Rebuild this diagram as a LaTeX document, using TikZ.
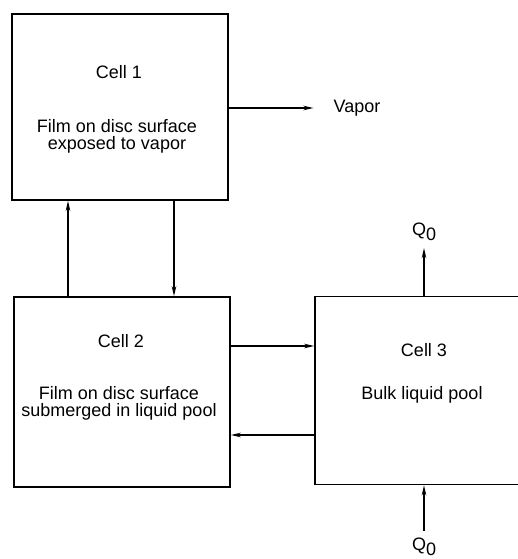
\documentclass[tikz,border=0pt]{standalone}
\usepackage{fontspec}
\setmainfont{Liberation Sans}
\usetikzlibrary{arrows.meta}

\tikzset{
  cellbox/.style={draw, line width=1.6pt, minimum width=216pt, minimum height=186pt, inner sep=0pt},
  flow/.style={line width=1.5pt, -{Stealth[length=10pt,width=4.5pt]}},
  lbl/.style={font=\fontsize{18}{17}\selectfont, align=center, inner sep=0pt},
}
\newcommand{\qsub}{Q\raisebox{-5pt}{0}}

\begin{document}
\begin{tikzpicture}[x=1pt,y=-1pt]
\useasboundingbox (0,0) rectangle (518,559);
% boxes
\node[cellbox] (cell1) at (120,107) {};
\node[cellbox, minimum height=190pt] (cell2) at (122,392) {};
\node[cellbox, minimum width=214pt, minimum height=188pt] (cell3) at (422,390.5) {};
% texts
\node[lbl] (title1) at (119,72) {Cell 1};
\node[lbl] (text1) at (117,136) {Film on disc surface\\exposed to vapor};
\node[lbl] (title2) at (121,341) {Cell 2};
\node[lbl] (text2) at (119,403) {Film on disc surface\\submerged in liquid pool};
\node[lbl] (title3) at (424,350) {Cell 3};
\node[lbl] (text3) at (422,395) {Bulk liquid pool};
\node[lbl] (vapor) at (357,108) {Vapor};
\node[lbl] (qout) at (424,232) {\qsub};
\node[lbl] (qin) at (424,547) {\qsub};
% connectors
\coordinate (upx) at (68,0);
\coordinate (downx) at (174,0);
\coordinate (hi) at (0,346);
\coordinate (lo) at (0,435);
\draw[flow] (cell2.north -| upx) -- (cell1.south -| upx);
\draw[flow] (cell1.south -| downx) -- (cell2.north -| downx);
\draw[flow] (cell1.east |- vapor) -- ([xshift=-20pt]vapor.west);
\draw[flow] (cell2.east |- hi) -- (cell3.west |- hi);
\draw[flow] (cell3.west |- lo) -- (cell2.east |- lo);
\draw[flow] (cell3.north -| qout) -- ([yshift=-7pt]qout.south);
\draw[flow] ([yshift=7pt]qin.north) -- (cell3.south -| qin);
\end{tikzpicture}
\end{document}
